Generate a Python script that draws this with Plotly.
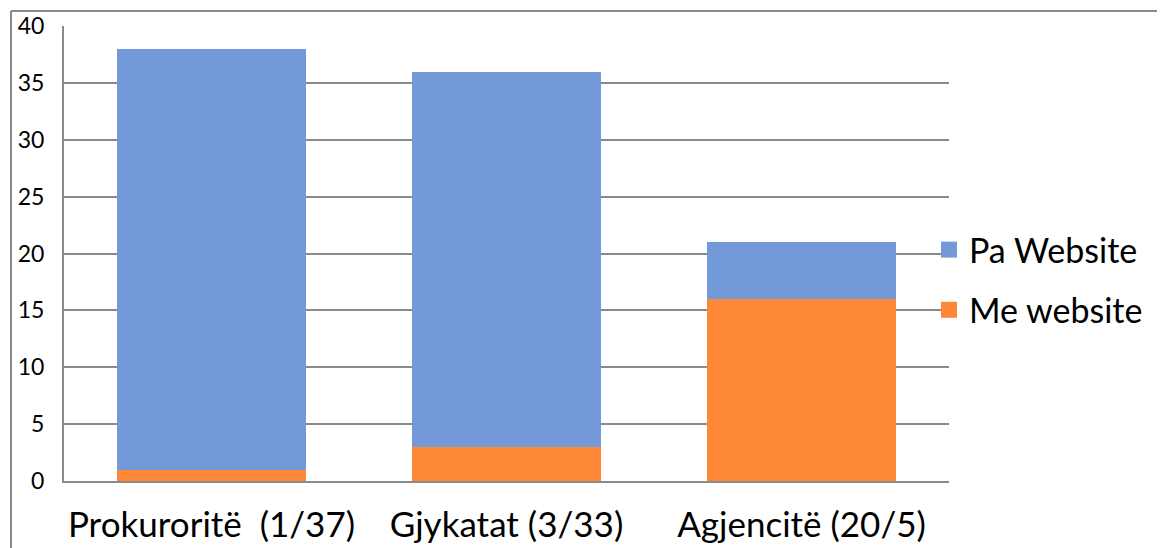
import plotly.graph_objects as go

categories = ["Prokuroritë  (1/37)", "Gjykatat (3/33)", "Agjencitë (20/5)"]
me_website = [1, 3, 16]
pa_website = [37, 33, 5]
y_ticks = [0, 5, 10, 15, 20, 25, 30, 35, 40]

FONT = "Lato"
GRID = "#8a8a8a"
BLUE = "#7499d9"
ORANGE = "#fe8838"

# page has an 8px body margin; figure coordinates are offset by it
OFF = 8
W, H = 1165 - OFF, 548 - OFF
L, R, T, B = 64 - OFF, 949 - OFF, 26 - OFF, 481 - OFF


def px(x):
    return (x - OFF - L) / (R - L)


def py(y):
    return (B - (y - OFF)) / (B - T)


fig = go.Figure()
fig.add_trace(go.Bar(name="Me website", x=categories, y=me_website,
                     marker=dict(color=ORANGE, line=dict(width=0)),
                     width=0.64, showlegend=False))
fig.add_trace(go.Bar(name="Pa Website", x=categories, y=pa_website,
                     marker=dict(color=BLUE, line=dict(width=0)),
                     width=0.64, showlegend=False))
# legend entries with larger square swatches
fig.add_trace(go.Scatter(name="Pa Website", x=[None], y=[None], mode="markers",
                         marker=dict(symbol="square", size=16, color=BLUE),
                         legendgroup="a", legendrank=1, hoverinfo="skip"))
fig.add_trace(go.Scatter(name="Me website", x=[None], y=[None], mode="markers",
                         marker=dict(symbol="square", size=16, color=ORANGE),
                         legendgroup="b", legendrank=2, hoverinfo="skip"))

fig.update_layout(
    width=W, height=H,
    barmode="stack",
    plot_bgcolor="white", paper_bgcolor="white",
    margin=dict(l=L, r=W - R, t=T, b=H - B, pad=0, autoexpand=False),
    font=dict(family=FONT, color="black"),
    xaxis=dict(showgrid=False, showline=True, linecolor=GRID, linewidth=2, automargin=False,
               ticks="", tickfont=dict(size=35, family=FONT), ticklabelstandoff=12),
    yaxis=dict(range=[0, 40], tickvals=y_ticks, showgrid=True, gridcolor=GRID, gridwidth=2,
               showline=True, linecolor=GRID, linewidth=2, zeroline=False, automargin=False,
               ticks="", tickfont=dict(size=23, family=FONT), ticklabelstandoff=13),
    legend=dict(x=px(929), y=py(221), xanchor="left", yanchor="top",
                traceorder="grouped", tracegroupgap=13,
                font=dict(size=34, family=FONT), bgcolor="rgba(0,0,0,0)"),
    shapes=[
        dict(type="line", xref="paper", yref="paper", x0=px(11), x1=px(1180), y0=py(11), y1=py(11),
             line=dict(color=GRID, width=2), layer="above"),
        dict(type="line", xref="paper", yref="paper", x0=px(11), x1=px(11), y0=py(11), y1=py(570),
             line=dict(color=GRID, width=2), layer="above"),
    ],
)

fig.write_html("out.html")
